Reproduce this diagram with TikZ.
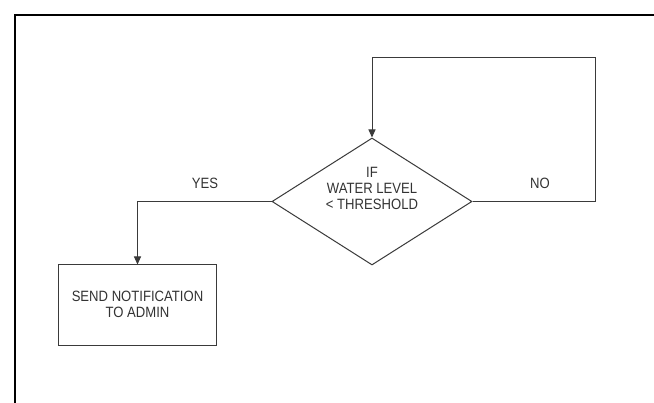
\documentclass[tikz,border=0pt]{standalone}
\usepackage{fontspec}
\setmainfont{Liberation Sans}
\usetikzlibrary{shapes.geometric,arrows.meta}
\definecolor{ln}{HTML}{3A3A3A}
\definecolor{tx}{HTML}{333333}
\newcommand\lbl[1]{\scalebox{1}[1.14]{\fontsize{13.1}{14}\selectfont\begin{tabular}{@{}c@{}}#1\end{tabular}}}
\begin{document}
\begin{tikzpicture}[x=1pt,y=-1pt,
  conn/.style={draw=ln,line width=1pt},
  arr/.style={conn,-{Triangle[length=8pt,width=7pt]}},
  txt/.style={text=tx,inner sep=0pt},
  framestyle/.style={draw=black,line width=2pt}]
\useasboundingbox (0,0) rectangle (654,403);
\fill[white] (0,0) rectangle (654,403);
% frame
\coordinate (fb) at (15,404);
\coordinate (fc) at (15,15);
\coordinate (fr) at (655,15);
\draw[framestyle] (fb) -- (fc) -- (fr);
% decision
\node[shape=diamond,draw=ln,line width=1pt,minimum width=200pt,minimum height=127pt,inner sep=0pt] (dia) at (372,201.5) {};
\node[txt] (diat) at (372,190.3) {\lbl{IF\\WATER LEVEL\\\textless{} THRESHOLD}};
% box
\node[draw=ln,line width=1pt,minimum width=158pt,minimum height=81pt,inner sep=0pt] (box) at (137.5,305.5) {};
\node[txt] (boxt) at (137.5,306.3) {\lbl{SEND NOTIFICATION\\TO ADMIN}};
% connectors
\coordinate (lr) at (595.5,57.5);
\draw[arr] (dia.east) -| (lr) -| (dia.north);
\draw[arr] (dia.west) -| (box.north);
% labels
\node[txt] (yes) at (205,185.7) {\lbl{YES}};
\node[txt] (no) at (540,185.7) {\lbl{NO}};
\end{tikzpicture}
\end{document}
